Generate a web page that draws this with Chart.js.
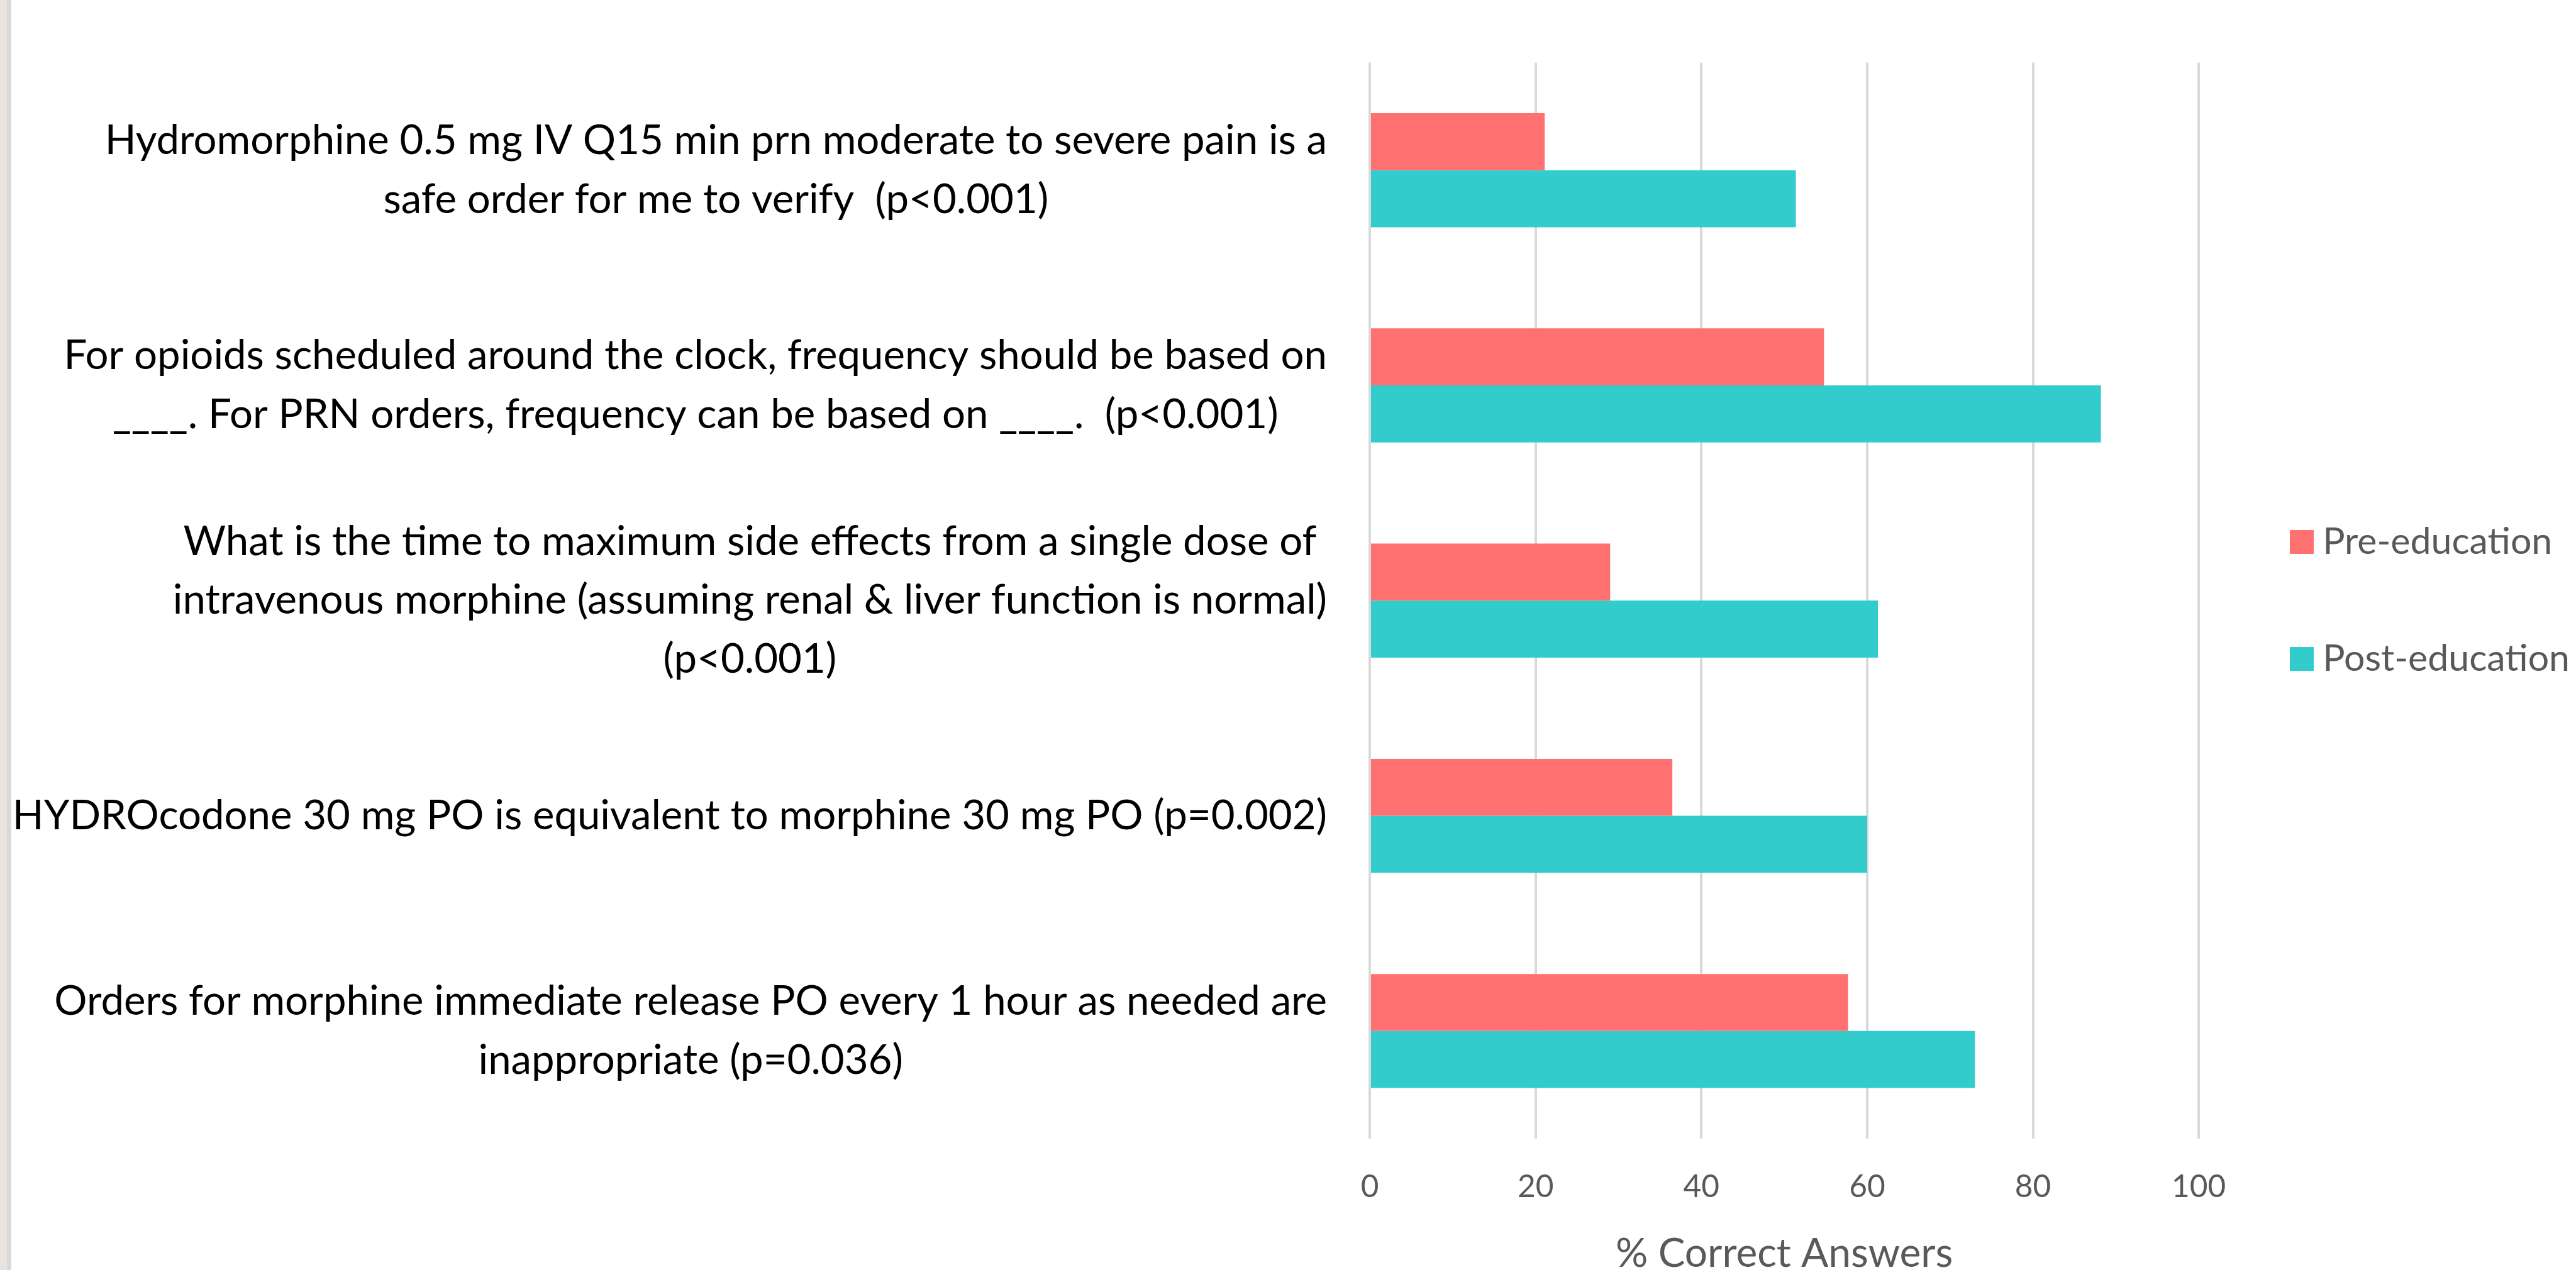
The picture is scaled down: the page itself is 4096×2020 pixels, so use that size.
<!DOCTYPE html>
<html>
<head>
<meta charset="utf-8">
<script src="https://cdn.jsdelivr.net/npm/chart.js@4.4.1/dist/chart.umd.min.js"></script>
<style>
  html, body { margin: 0; padding: 0; background: #ffffff; overflow: hidden; }
  #wrap { position: relative; width: 4096px; height: 2020px; }
  #chart { position: absolute; left: 0; top: 0; }
  .edge { position: absolute; top: 0; height: 2020px; }
  #edgeA { left: 0; width: 11px; background: #e7e3df; }
  #edgeB { left: 11px; width: 7px; background: #d9d9d9; }
</style>
</head>
<body>
<div id="wrap">
  <canvas id="chart" width="4096" height="2020"></canvas>
  <div class="edge" id="edgeA"></div>
  <div class="edge" id="edgeB"></div>
</div>
<script>
// Survey questions, one array of wrapped lines per category
const questions = [
  ['Hydromorphine 0.5 mg IV Q15 min prn moderate to severe pain is a', 'safe order for me to verify  (p<0.001)'],
  ['For opioids scheduled around the clock, frequency should be based on', '____. For PRN orders, frequency can be based on ____.  (p<0.001)'],
  ['What is the time to maximum side effects from a single dose of', 'intravenous morphine (assuming renal & liver function is normal)', '(p<0.001)'],
  ['HYDROcodone 30 mg PO is equivalent to morphine 30 mg PO (p=0.002)'],
  ['Orders for morphine immediate release PO every 1 hour as needed are', 'inappropriate (p=0.036)']
];
const seriesNames = ['Pre-education', 'Post-education'];
const preEducation = [21.1, 54.8, 29.0, 36.5, 57.7];
const postEducation = [51.4, 88.2, 61.3, 60.0, 73.0];
const axisTitle = '% Correct Answers';
const xMin = 0, xMax = 100, xStep = 20;

const PRE_COLOR = '#ff7070';
const POST_COLOR = '#33cccc';
const FONT = 'Lato';

// square legend swatches
function swatch(color, size) {
  const c = document.createElement('canvas');
  c.width = size; c.height = size;
  const g = c.getContext('2d');
  g.fillStyle = color;
  g.fillRect(0, 0, size, size);
  return c;
}
const swatches = [swatch(PRE_COLOR, 38), swatch(POST_COLOR, 38)];

// wrapped category labels, each block centred on its widest line and right-aligned to the plot
const questionLabels = {
  id: 'questionLabels',
  afterDraw(chart, args, opts) {
    const { ctx, chartArea } = chart;
    const yScale = chart.scales.y;
    ctx.save();
    ctx.font = `${opts.size}px ${opts.family}`;
    ctx.fillStyle = opts.color;
    ctx.textAlign = 'center';
    ctx.textBaseline = 'middle';
    questions.forEach((lines, i) => {
      const yc = yScale.getPixelForTick(i);
      const widest = Math.max(...lines.map(l => ctx.measureText(l).width));
      const xc = chartArea.left - opts.gap - widest / 2;
      const y0 = yc - (lines.length - 1) * opts.lineHeight / 2;
      lines.forEach((l, k) => ctx.fillText(l, xc, y0 + k * opts.lineHeight));
    });
    ctx.restore();
  }
};

new Chart(document.getElementById('chart'), {
  type: 'bar',
  data: {
    labels: questions.map(q => q.join(' ')),
    datasets: [
      { label: seriesNames[0], data: preEducation, backgroundColor: PRE_COLOR, xAxisID: 'x', yAxisID: 'y' },
      { label: seriesNames[1], data: postEducation, backgroundColor: POST_COLOR, xAxisID: 'x', yAxisID: 'y' }
    ]
  },
  options: {
    indexAxis: 'y',
    responsive: false,
    animation: false,
    devicePixelRatio: 1,
    datasets: { bar: { categoryPercentage: 0.53, barPercentage: 1.0, borderWidth: 0 } },
    layout: { padding: { top: 99.6, left: 0, right: 0, bottom: 0 } },
    scales: {
      x: {
        type: 'linear',
        position: 'bottom',
        min: xMin, max: xMax,
        ticks: { stepSize: xStep, color: '#595959', font: { family: FONT, size: 49.5 }, padding: 47 },
        grid: { color: '#d9d9d9', lineWidth: 4, drawTicks: false },
        border: { display: false },
        title: { display: true, text: axisTitle, color: '#595959', font: { family: FONT, size: 64 }, padding: { top: 0, bottom: -12.4 } },
        afterFit: s => { s.height = 209; }
      },
      y: {
        type: 'category',
        position: 'left',
        ticks: { display: false },
        grid: { display: false },
        border: { display: false },
        afterFit: s => { s.width = 2178; }
      },
      gapRight: {
        type: 'category',
        axis: 'y',
        position: 'right',
        ticks: { display: false },
        grid: { display: false },
        border: { display: false },
        afterFit: s => { s.width = 33.5; }
      }
    },
    plugins: {
      tooltip: { enabled: false },
      legend: {
        position: 'right',
        fullSize: false,
        maxWidth: 567.5,
        labels: {
          usePointStyle: true,
          pointStyleWidth: 7,
          padding: 127,
          color: '#595959',
          font: { family: FONT, size: 59 },
          generateLabels(ch) {
            const items = Chart.defaults.plugins.legend.labels.generateLabels(ch);
            return items.map((it, i) => Object.assign(it, { pointStyle: swatches[i] }));
          }
        }
      },
      questionLabels: { family: FONT, size: 65.3, color: '#000000', gap: 68, lineHeight: 93.6 }
    }
  },
  plugins: [questionLabels]
});
</script>
</body>
</html>
